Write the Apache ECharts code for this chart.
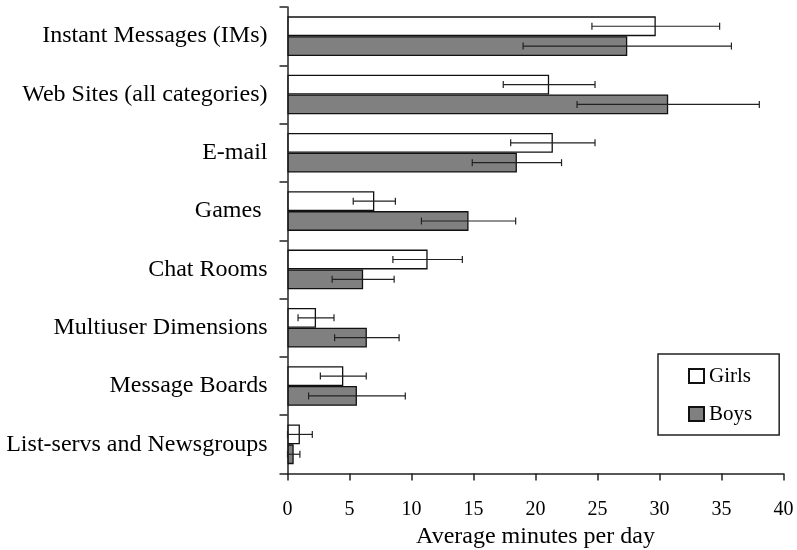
<!DOCTYPE html>
<html>
<head>
<meta charset="utf-8">
<script src="https://cdn.jsdelivr.net/npm/echarts@6/dist/echarts.min.js"></script>
<style>
html,body{margin:0;padding:0;background:#fff;}
#chart{width:797px;height:550px;}
</style>
</head>
<body>
<div id="chart"></div>
<script>
const categories = ["Instant Messages (IMs)", "Web Sites (all categories)", "E-mail", "Games ", "Chat Rooms", "Multiuser Dimensions", "Message Boards", "List-servs and Newsgroups"];
const girls = [29.7, 21.1, 21.4, 7.0, 11.3, 2.3, 4.5, 1.0];
const girlsErr = [5.15, 3.7, 3.4, 1.7, 2.8, 1.45, 1.85, 1.0];
const boys = [27.4, 30.7, 18.5, 14.6, 6.1, 6.4, 5.6, 0.5];
const boysErr = [8.4, 7.35, 3.6, 3.8, 2.5, 2.6, 3.9, 0.5];
const xTicks = [0, 5, 10, 15, 20, 25, 30, 35, 40];

const FONT = 'Liberation Serif';
const GAP = 0.32;

const errData = [];
girls.forEach((v, i) => errData.push([i, Math.max(0, v - girlsErr[i]), v + girlsErr[i], 0]));
boys.forEach((v, i) => errData.push([i, Math.max(0, v - boysErr[i]), v + boysErr[i], 1]));

const chart = echarts.init(document.getElementById('chart'), null, {renderer: 'canvas'});
chart.setOption({
  animation: false,
  backgroundColor: '#fff',
  textStyle: {fontFamily: FONT, color: '#000'},
  grid: {left: 287.5, right: 13.5, top: 7, bottom: 76.5, containLabel: false, outerBoundsMode: 'none'},
  legend: {
    orient: 'vertical', left: 658, top: 354, icon: 'rect',
    padding: [10, 27, 9, 30], itemGap: 14, itemWidth: 15, itemHeight: 14,
    backgroundColor: '#fff', borderColor: '#222', borderWidth: 1.5,
    textStyle: {fontFamily: FONT, fontSize: 21, color: '#000', lineHeight: 24},
    data: ['Girls', 'Boys']
  },
  xAxis: {
    type: 'value', min: xTicks[0], max: xTicks[xTicks.length - 1], interval: 5,
    name: 'Average minutes per day', nameLocation: 'middle', nameGap: 51,
    nameTextStyle: {fontFamily: FONT, fontSize: 24, color: '#000'},
    axisLine: {show: true, lineStyle: {color: '#222', width: 1.5}},
    axisTick: {show: true, length: 7, lineStyle: {color: '#222', width: 1.5}},
    axisLabel: {fontFamily: FONT, fontSize: 20, color: '#000', margin: 26},
    splitLine: {show: false}
  },
  yAxis: {
    type: 'category', data: categories, inverse: true,
    axisLine: {show: true, lineStyle: {color: '#222', width: 1.5}},
    axisTick: {show: true, length: 8, lineStyle: {color: '#222', width: 1.5}},
    axisLabel: {fontFamily: FONT, fontSize: 24, color: '#000', margin: 20},
    splitLine: {show: false}
  },
  series: [
    {
      name: 'Girls', type: 'bar', data: girls, barGap: '0%', barCategoryGap: (GAP * 100) + '%',
      itemStyle: {color: '#ffffff', borderColor: '#111', borderWidth: 1.3}
    },
    {
      name: 'Boys', type: 'bar', data: boys, barGap: '0%', barCategoryGap: (GAP * 100) + '%',
      itemStyle: {color: '#808080', borderColor: '#111', borderWidth: 1.3}
    },
    {
      name: 'err', type: 'custom', z: 10, data: errData,
      encode: {x: [1, 2], y: 0},
      renderItem: function (params, api) {
        const cat = api.value(0);
        const s = api.value(3);
        const p1 = api.coord([api.value(1), cat]);
        const p2 = api.coord([api.value(2), cat]);
        const band = api.size([0, 1])[1];
        const barW = band * (1 - GAP) / 2;
        const y = p1[1] + (s === 0 ? -barW / 2 : barW / 2);
        const h = 3.5;
        const st = {stroke: '#222', lineWidth: 1.2};
        return {
          type: 'group',
          children: [
            {type: 'line', shape: {x1: p1[0], y1: y, x2: p2[0], y2: y}, style: st},
            {type: 'line', shape: {x1: p1[0], y1: y - h, x2: p1[0], y2: y + h}, style: st},
            {type: 'line', shape: {x1: p2[0], y1: y - h, x2: p2[0], y2: y + h}, style: st}
          ]
        };
      }
    }
  ]
});
</script>
</body>
</html>
